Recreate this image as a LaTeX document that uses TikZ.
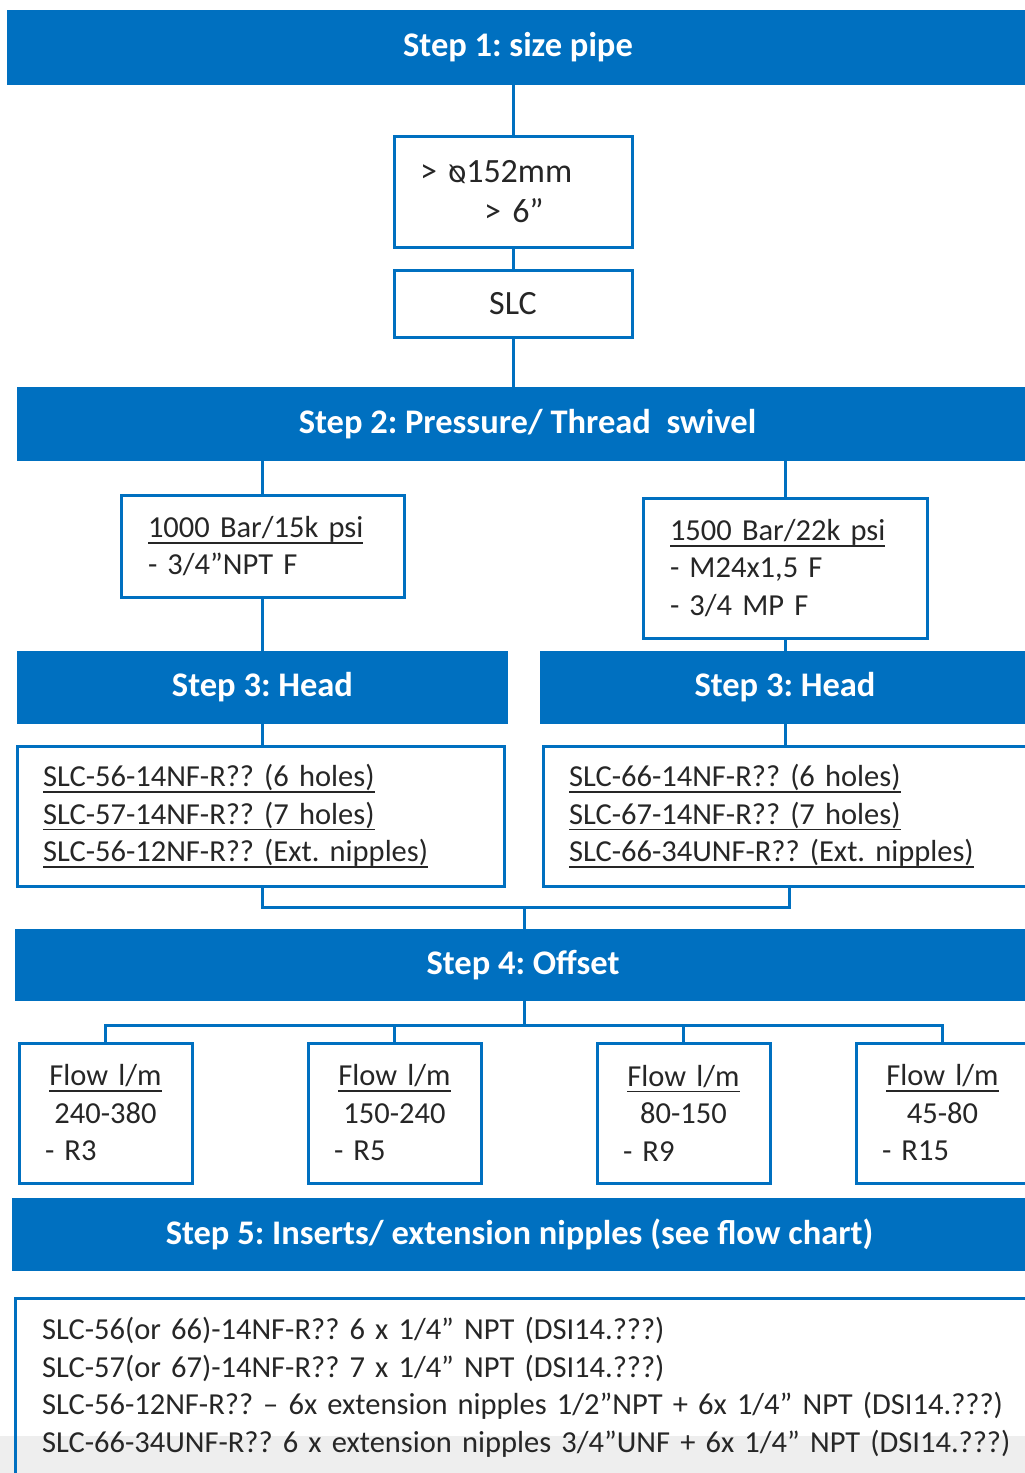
\documentclass[tikz,border=0pt]{standalone}
\usepackage{fontspec}
\usepackage{graphicx}
\setmainfont{Carlito}
\frenchspacing
\definecolor{myblue}{HTML}{0070C0}
\definecolor{txt}{HTML}{262626}
\definecolor{band}{HTML}{EEEEEE}
\newsavebox{\myulbox}
\newcommand{\myul}[1]{\leavevmode\sbox{\myulbox}{#1}\rlap{\rule[-6.3pt]{\wd\myulbox}{1.8pt}}\usebox{\myulbox}}
\newskip\mybodyspace
\mybodyspace=6.3pt plus 2pt minus 1pt
\newskip\mytightspace
\mytightspace=5pt plus 2pt minus 1pt
\newcommand{\mybodyfont}{\fontsize{30.5}{37.5}\selectfont\spaceskip=\mybodyspace}
\newcommand{\mytightfont}{\fontsize{30.5}{37.5}\selectfont\spaceskip=\mytightspace}
\tikzset{
  bar/.style={fill=myblue, text=white, inner sep=0pt, font=\bfseries\fontsize{34.5}{40}\selectfont},
  box/.style={draw=myblue, line width=3pt, text=txt, inner sep=0pt, font=\mybodyfont},
  tbox/.style={box, inner xsep=27pt, align=left},
  conn/.style={draw=myblue, line width=3pt}
}
\begin{document}
\begin{tikzpicture}[x=1pt,y=-1pt]
\useasboundingbox (0,0) rectangle (1025,1473);
\clip (0,0) rectangle (1025,1473);
\fill[band] (0,1436) rectangle (1025,1473);

% Step bars
\node[bar, minimum width=1022pt, minimum height=75pt] (s1) at (518,47.5) {Step 1: size pipe};
\node[bar, minimum width=1021pt, minimum height=74pt] (s2) at (527.5,424) {Step 2: Pressure/ Thread\ \ swivel};
\node[bar, minimum width=491pt, minimum height=73pt] (s3L) at (262.5,687.5) {Step 3: Head};
\node[bar, minimum width=490pt, minimum height=73pt] (s3R) at (785,687.5) {Step 3: Head};
\node[bar, minimum width=1016pt, minimum height=72pt] (s4) at (523,965) {Step 4: Offset};
\node[bar, minimum width=1015pt, minimum height=73pt] (s5) at (519.5,1234.5) {Step 5: Inserts/ extension nipples (see flow chart)};

% Boxes
\node[tbox, inner xsep=26pt, text width=186pt, minimum height=111pt, font=\fontsize{34}{37.5}\selectfont] (b1) at (513,191.5)
  {> \reflectbox{ø}152mm\\[3pt]\hspace*{64pt}> 6”};
\node[box, minimum width=238pt, minimum height=67pt, font=\fontsize{34}{40}\selectfont] (slc) at (513,303.5) {SLC};
\node[tbox, text width=229pt, minimum height=102pt] (p1) at (262.5,546)
  {\myul{1000 Bar/15k psi}\\- 3/4”NPT F};
\node[tbox, text width=230pt, minimum height=140pt] (p2) at (785,568)
  {\myul{1500 Bar/22k psi}\\- M24x1,5 F\\- 3/4 MP F};
\node[tbox, inner xsep=26pt, text width=435pt, minimum height=140pt] (h1) at (260.5,816)
  {\myul{SLC-56-14NF-R?? (6 holes)}\\\myul{SLC-57-14NF-R?? (7 holes)}\\\myul{SLC-56-12NF-R?? (Ext. nipples)}};
\node[tbox, inner xsep=26pt, text width=445pt, minimum height=140pt] (h2) at (791.5,816)
  {\myul{SLC-66-14NF-R?? (6 holes)}\\\myul{SLC-67-14NF-R?? (7 holes)}\\\myul{SLC-66-34UNF-R?? (Ext. nipples)}};

\node[box, inner xsep=26pt, text width=121pt, minimum height=140pt, align=center] (f1) at (105.5,1113)
  {\myul{Flow l/m}\\240-380\\\makebox[121pt][l]{- R3}};
\node[box, inner xsep=26pt, text width=121pt, minimum height=140pt, align=center] (f2) at (394.5,1113)
  {\myul{Flow l/m}\\150-240\\\makebox[121pt][l]{- R5}};
\node[box, inner xsep=26pt, text width=121pt, minimum height=140pt, align=center] (f3) at (683.5,1113)
  {\myul{Flow l/m}\\80-150\\\makebox[121pt][l]{- R9}};
\node[box, inner xsep=26pt, text width=121pt, minimum height=140pt, align=center] (f4) at (942.5,1113)
  {\myul{Flow l/m}\\45-80\\\makebox[121pt][l]{- R15}};

\node[tbox, text width=1000pt, minimum height=179pt, font=\mytightfont] (ins) at (542,1387.5)
  {SLC-56(or 66)-14NF-R?? 6 x 1/4” NPT (DSI14.???)\\
   SLC-57(or 67)-14NF-R?? 7 x 1/4” NPT (DSI14.???)\\
   SLC-56-12NF-R?? – 6x extension nipples 1/2”NPT + 6x 1/4” NPT (DSI14.???)\\
   SLC-66-34UNF-R?? 6 x extension nipples 3/4”UNF + 6x 1/4” NPT (DSI14.???)};

% Connectors
\draw[conn] (b1.north) -- (b1.north |- s1.south);
\draw[conn] (b1.south) -- (slc.north);
\draw[conn] (slc.south) -- (slc.south |- s2.north);
\draw[conn] (p1.north) -- (p1.north |- s2.south);
\draw[conn] (p2.north) -- (p2.north |- s2.south);
\draw[conn] (p1.south) -- (p1.south |- s3L.north);
\draw[conn] (p2.south) -- (p2.south |- s3R.north);
\draw[conn] (s3L.south) -- (s3L.south |- h1.north);
\draw[conn] (s3R.south) -- (s3R.south |- h2.north);
\coordinate (j1) at (524,907);
\draw[conn] (h1.south -| s3L.south) |- (j1) -| (h2.south -| 789,0);
\draw[conn] (j1) -- (j1 |- s4.north);
\coordinate (j2) at (524,1025);
\draw[conn] (j2 |- s4.south) -- (j2);
\draw[conn] (f1.north) |- (j2) -| (f4.north);
\draw[conn] (f2.north) -- (f2.north |- j2);
\draw[conn] (f3.north) -- (f3.north |- j2);
\end{tikzpicture}
\end{document}
